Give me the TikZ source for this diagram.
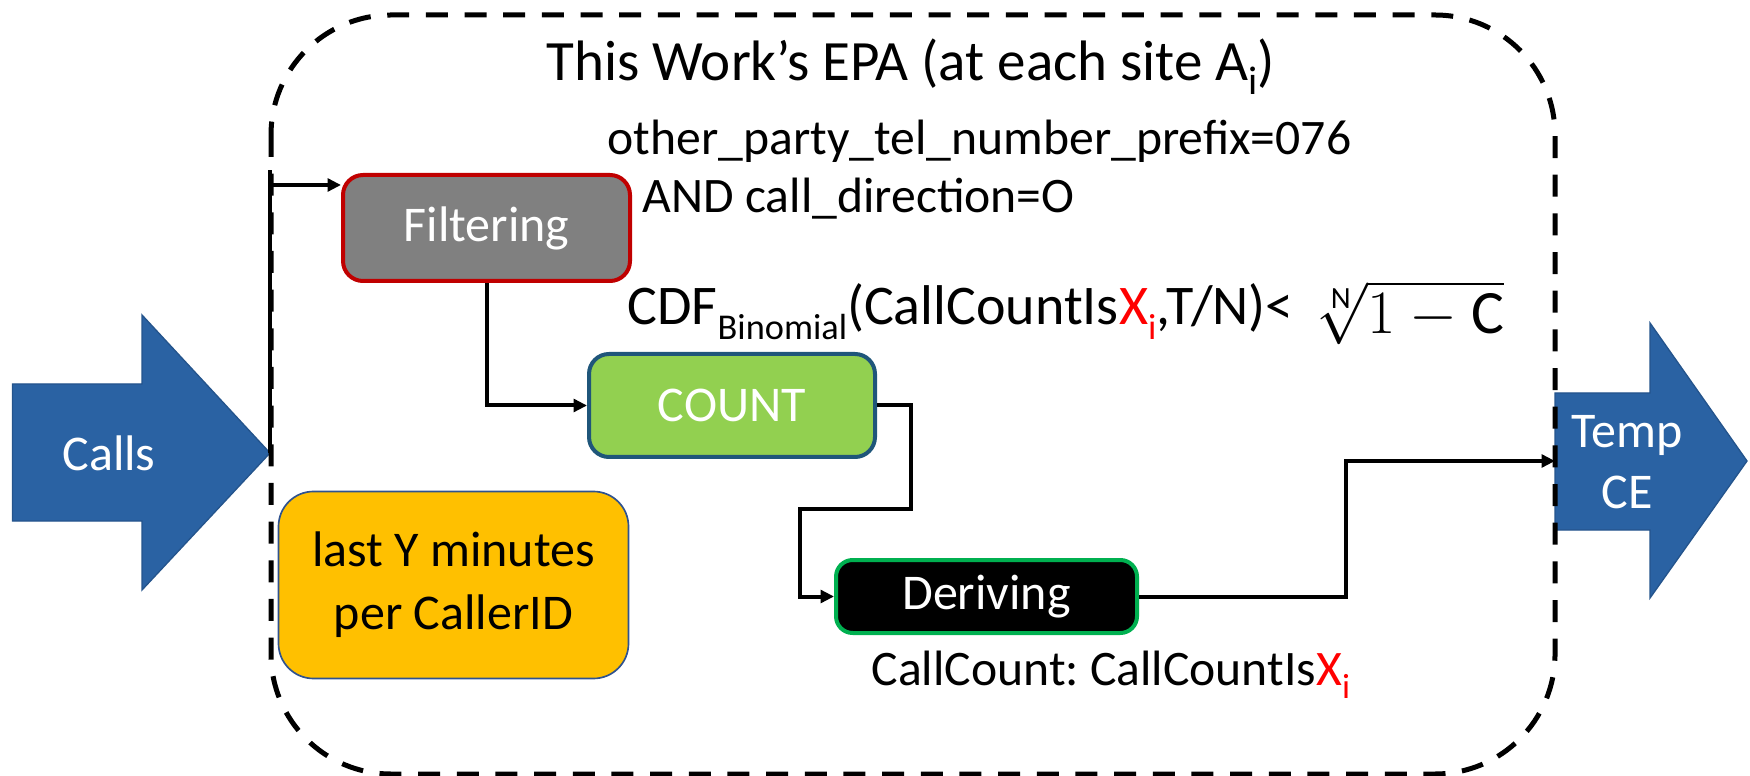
\RequirePackage{fix-cm}
\documentclass[tikz,border=0pt]{standalone}
\usepackage{fontspec}
\setmainfont{Carlito}
\usetikzlibrary{arrows.meta,calc}
\frenchspacing
\definecolor{flowblue}{RGB}{42,98,163}
\definecolor{flowblueedge}{RGB}{36,84,140}
\definecolor{filtgray}{RGB}{128,128,128}
\definecolor{filtred}{RGB}{192,0,0}
\definecolor{countgreen}{RGB}{146,208,80}
\definecolor{countedge}{RGB}{31,86,122}
\definecolor{derivedge}{RGB}{0,176,80}
\definecolor{memyellow}{RGB}{255,192,0}
\definecolor{memedge}{RGB}{47,82,143}
\definecolor{hot}{RGB}{255,0,0}
% lowered, smaller subscript for the annotation text
\newcommand{\annsub}[1]{\raisebox{-4.3pt}{\fontsize{10.9}{12}\selectfont #1}}
\begin{document}
\begin{tikzpicture}[x=0.3pt,y=-0.3pt,
  opbox/.style={rounded corners=6pt, line width=1.2pt, inner sep=0pt,
    text=white, font=\fontsize{15}{18}\selectfont},
  flowarrow/.style={fill=flowblue, draw=flowblueedge, line width=0.4pt},
  wire/.style={line width=1.2pt},
  wirearrow/.style={line width=1.2pt, -{Triangle[length=4pt,width=3.8pt]}},
  note/.style={anchor=base west, inner sep=0pt, font=\fontsize{14.9}{17}\selectfont},
]
\useasboundingbox (0,0) rectangle (1750,776);

% input and output stream arrows
\fill[flowarrow] (12.5,384) -- (142,384) -- (142,315) -- (270,453) -- (142,590)
  -- (142,521) -- (12.5,521) -- cycle;
\coordinate (callstip) at (270,453);
\node[text=white, font=\fontsize{15}{18}\selectfont] (callslbl) at (109,453) {Calls};

\fill[flowarrow] (1555,393) -- (1650,393) -- (1650,323) -- (1747,461) -- (1650,598)
  -- (1650,530) -- (1555,530) -- cycle;
\coordinate (tempin) at (1555,461);
\node[text=white, align=center, font=\fontsize{15}{18.3}\selectfont] (templbl) at (1627,462) {Temp\\CE};

% EPA boundary
\draw[line width=1.5pt, dash pattern=on 6.6pt off 5pt, rounded corners=36pt]
  (271,15) rectangle (1555,774);
\node[anchor=base west, inner sep=0pt, font=\fontsize{17.1}{20}\selectfont] (title) at (546,81)
  {This Work’s EPA (at each site A\raisebox{-4pt}{\fontsize{12}{14}\selectfont i})};

% operators
\node[opbox, fill=filtgray, draw=filtred, minimum width=86.1pt, minimum height=31.8pt]
  (filt) at (486.5,228) {Filtering};
\node[opbox, fill=countgreen, draw=countedge, minimum width=85.8pt, minimum height=30.9pt]
  (count) at (732,405.5) {COUNT};
\node[opbox, rounded corners=5pt, fill=black, draw=derivedge, minimum width=90.3pt, minimum height=21.9pt]
  (deriv) at (986.5,596.5) {Deriving};
\node[rounded corners=10.5pt, fill=memyellow, draw=memedge, line width=0.5pt, inner sep=0pt,
  minimum width=105pt, minimum height=56.1pt, align=center,
  font=\fontsize{15}{19}\selectfont] (window) at (453.5,585) {last Y minutes\\per CallerID};

% annotations
\node[note] (filtcond) at (607,155) {other\_party\_tel\_number\_prefix=076};
\node[note] (filtcond2) at (642,213) {AND call\_direction=O};
\node[note, font=\fontsize{16.8}{19}\selectfont] (cdf) at (627,325)
  {CDF\annsub{Binomial}(CallCountIs\textcolor{hot}{X\annsub{i}},T/N)<\hspace{6pt}%
  \raisebox{-2.5pt}{\fontsize{18.5}{21}\selectfont$\sqrt[\mathrm{N}]{1-\mathrm{C}}$}};
\node[note] (derivout) at (871,685)
  {CallCount: CallCountIs\textcolor{hot}{X\raisebox{-4pt}{\fontsize{10.5}{12}\selectfont i}}};

% connectors
\coordinate (filtin) at ($(filt.north west)+(0,12)$);
\coordinate (branchtop) at (270,170);
\draw[wire] (callstip) -- (branchtop);
\draw[wirearrow] (callstip) |- (filtin);
\draw[wirearrow] (filt.south) |- (count.west);
\draw[wirearrow] (count.east) -- ++(34,0) -- ++(0,103) -| ($(deriv.west)+(-34,0)$) -- (deriv.west);
\draw[wirearrow] (deriv.east) -- ++(207,0) |- (tempin);
\end{tikzpicture}
\end{document}
